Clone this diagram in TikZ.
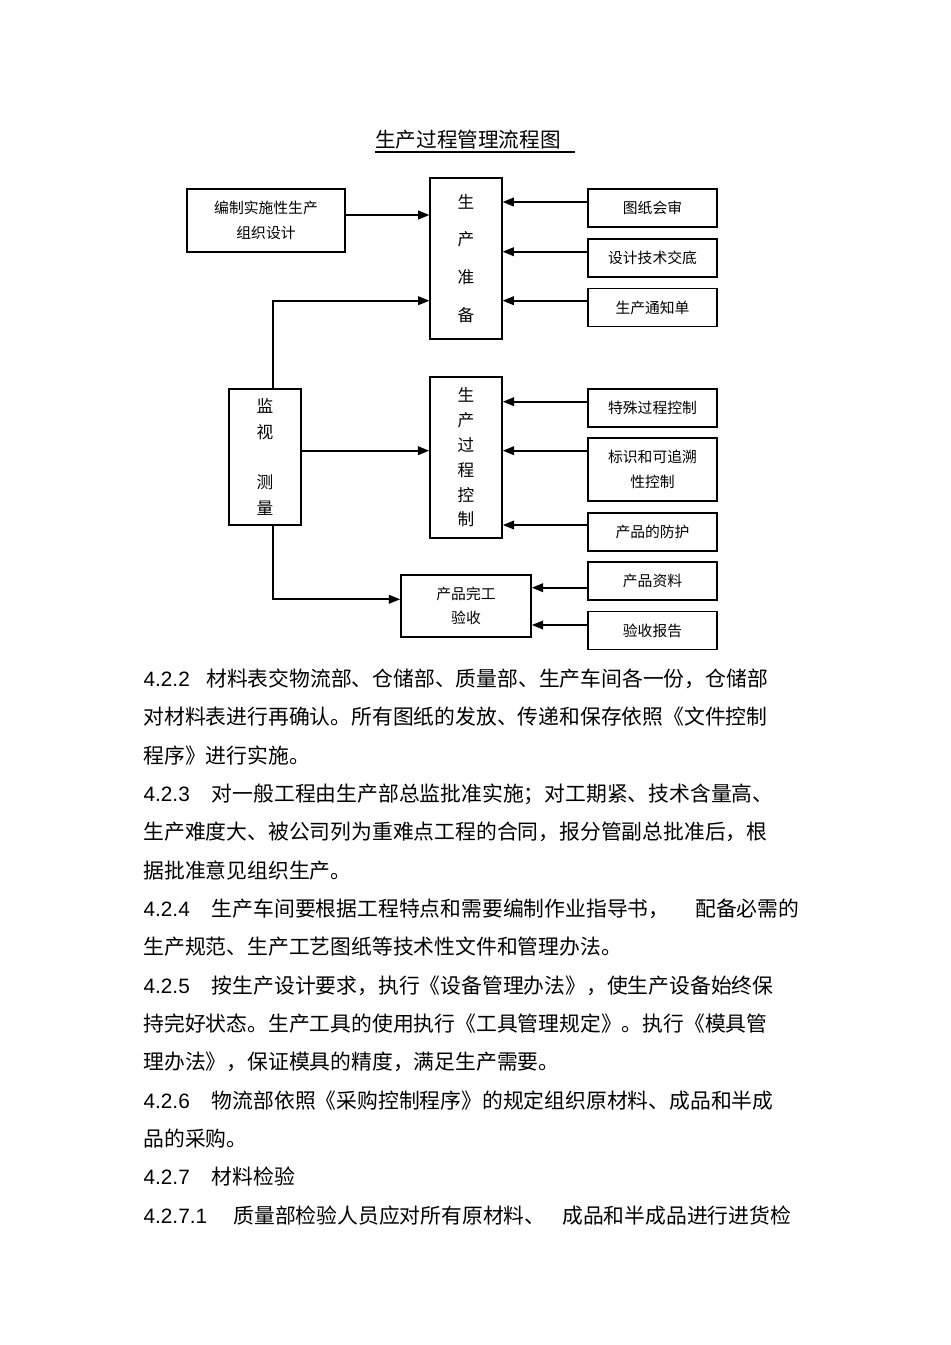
\documentclass[tikz,border=0pt]{standalone}
\usepackage{fontspec}
\setmainfont{Liberation Sans}
\newfontfamily\cjk{Noto Sans CJK SC}
\usetikzlibrary{arrows.meta}

\tikzset{
  box/.style={draw, line width=1.25pt, inner sep=0pt, align=center,
    font=\cjk\fontsize{11.1}{18.75}\selectfont},
  vbox/.style={box, font=\cjk\fontsize{12.5}{19}\selectfont},
  arr/.style={line width=1.3pt, -{Triangle[length=8.5pt,width=6.5pt]}},
  txt/.style={anchor=base west, inner sep=0pt, font=\cjk\fontsize{15.6}{15.6}\selectfont},
  num/.style={anchor=base west, inner sep=0pt, font=\fontsize{15.6}{15.6}\selectfont},
}

\begin{document}
\begin{tikzpicture}[x=0.75pt,y=-0.75pt]

	\useasboundingbox (0,0) rectangle (950,1345);

	\node[anchor=base west, inner sep=0pt, font=\cjk\fontsize{15.45}{15.45}\selectfont] (T) at (375,147.5) {生产过程管理流程图};
	\draw[line width=0.9pt] ([yshift=-3.4pt]T.base west) -- ++(200,0);

	\node[box, minimum width=118.5pt, minimum height=47.25pt] (A) at (266,220.5) {编制实施性生产\\组织设计};
	\node[vbox, minimum width=53.6pt, minimum height=120.75pt, font=\cjk\fontsize{12.5}{28.3}\selectfont] (B) at (466,258.5) {生\\产\\准\\备};
	\node[box, minimum width=96.75pt, minimum height=28.5pt] (C1) at (652.5,208) {图纸会审};
	\node[box, minimum width=96.75pt, minimum height=28.5pt] (C2) at (652.5,258) {设计技术交底};
	\node[box, minimum width=96.75pt, minimum height=28.5pt] (C3) at (652.5,307.5) {生产通知单};

	\node[vbox, minimum width=54.4pt, minimum height=102pt, font=\cjk\fontsize{12.5}{19.1}\selectfont] (J) at (265,457) {监\\视\\~\\测\\量};
	\node[vbox, minimum width=54pt, minimum height=120.75pt, font=\cjk\fontsize{12.5}{18.6}\selectfont] (K) at (466,457.5) {生\\产\\过\\程\\控\\制};
	\node[box, minimum width=96.75pt, minimum height=28.5pt] (D1) at (652.5,408) {特殊过程控制};
	\node[box, minimum width=96.75pt, minimum height=47.25pt] (D2) at (652.5,469.5) {标识和可追溯\\性控制};
	\node[box, minimum width=96.75pt, minimum height=28.5pt] (D3) at (652.5,532) {产品的防护};

	\node[box, minimum width=97.5pt, minimum height=46.5pt, font=\cjk\fontsize{11.1}{18}\selectfont] (W) at (466,606) {产品完工\\验收};
	\node[box, minimum width=96.75pt, minimum height=28.5pt] (E1) at (652.5,581) {产品资料};
	\node[box, minimum width=96.75pt, minimum height=28.5pt] (E2) at (652.5,630.5) {验收报告};

	\coordinate (y0) at (0,215);
	\coordinate (y1) at (0,202);
	\coordinate (y2) at (0,251.7);
	\coordinate (y3) at (0,300.7);
	\coordinate (y4) at (0,401.7);
	\coordinate (y5) at (0,450.7);
	\coordinate (y6) at (0,525);
	\coordinate (y7) at (0,587.7);
	\coordinate (y8) at (0,625);
	\coordinate (y9) at (0,599.3);
	\coordinate (mx) at (273,0);

	\draw[arr] (A.east |- y0) -- (B.west |- y0);
	\draw[arr] (C1.west |- y1) -- (B.east |- y1);
	\draw[arr] (C2.west |- y2) -- (B.east |- y2);
	\draw[arr] (C3.west |- y3) -- (B.east |- y3);
	\draw[arr] (J.north -| mx) |- (B.west |- y3);

	\draw[arr] (J.east |- y5) -- (K.west |- y5);
	\draw[arr] (D1.west |- y4) -- (K.east |- y4);
	\draw[arr] (D2.west |- y5) -- (K.east |- y5);
	\draw[arr] (D3.west |- y6) -- (K.east |- y6);

	\draw[arr] (J.south -| mx) |- (W.west |- y9);
	\draw[arr] (E1.west |- y7) -- (W.east |- y7);
	\draw[arr] (E2.west |- y8) -- (W.east |- y8);

	\node[num] (n1) at (143.3,686.3) {4.2.2};
	\node[txt] (l1) at (206,686.3) {材料表交物流部、仓储部、质量部、生产车间各一份，仓储部};
	\node[txt] (l2) at (143.3,724.7) {对材料表进行再确认。所有图纸的发放、传递和保存依照《文件控制};
	\node[txt] (l3) at (143.3,763) {程序》进行实施。};
	\node[num] (n2) at (143.3,801.4) {4.2.3};
	\node[txt] (l4) at (211.7,801.4) {对一般工程由生产部总监批准实施；对工期紧、技术含量高、};
	\node[txt] (l5) at (143.3,839.7) {生产难度大、被公司列为重难点工程的合同，报分管副总批准后，根};
	\node[txt] (l6) at (143.3,878) {据批准意见组织生产。};
	\node[num] (n3) at (143.3,916.4) {4.2.4};
	\node[txt] (l7) at (211.7,916.4) {生产车间要根据工程特点和需要编制作业指导书，};
	\node[txt] (l7b) at (695,916.4) {配备必需的};
	\node[txt] (l8) at (143.3,954.8) {生产规范、生产工艺图纸等技术性文件和管理办法。};
	\node[num] (n4) at (143.3,993.1) {4.2.5};
	\node[txt] (l9) at (211.7,993.1) {按生产设计要求，执行《设备管理办法》，使生产设备始终保};
	\node[txt] (l10) at (143.3,1031.5) {持完好状态。生产工具的使用执行《工具管理规定》。执行《模具管};
	\node[txt] (l11) at (143.3,1069.8) {理办法》，保证模具的精度，满足生产需要。};
	\node[num] (n5) at (143.3,1108.2) {4.2.6};
	\node[txt] (l12) at (211.7,1108.2) {物流部依照《采购控制程序》的规定组织原材料、成品和半成};
	\node[txt] (l13) at (143.3,1146.5) {品的采购。};
	\node[num] (n6) at (143.3,1184.9) {4.2.7};
	\node[txt] (l14) at (211.7,1184.9) {材料检验};
	\node[num] (n7) at (143.3,1223.2) {4.2.7.1};
	\node[txt] (l15) at (233.3,1223.2) {质量部检验人员应对所有原材料、};
	\node[txt] (l15b) at (562,1223.2) {成品和半成品进行进货检};

\end{tikzpicture}
\end{document}
